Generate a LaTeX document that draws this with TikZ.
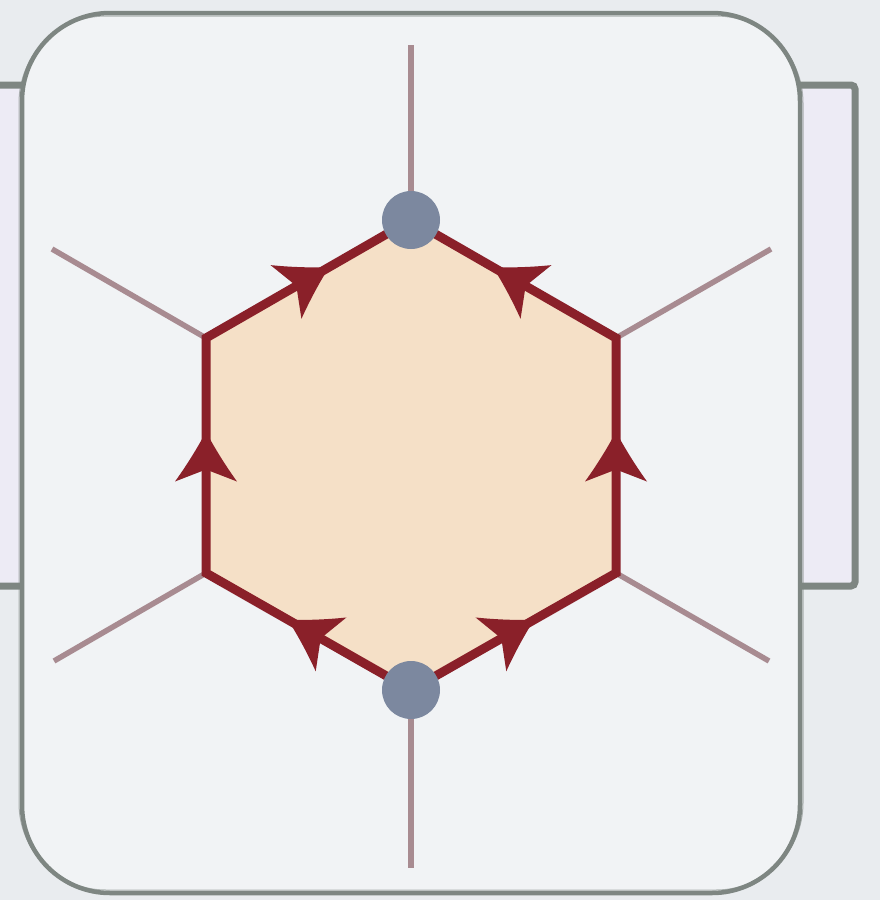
\documentclass[tikz,border=0pt]{standalone}
\usetikzlibrary{decorations.markings}
\definecolor{bgc}{HTML}{E9ECEF}
\definecolor{panel}{HTML}{F1F3F5}
\definecolor{lav}{HTML}{EDEBF5}
\definecolor{frame}{HTML}{7E8682}
\definecolor{spokec}{HTML}{A88B91}
\definecolor{edgec}{HTML}{8A2029}
\definecolor{hexc}{HTML}{F5E0C7}
\definecolor{dotc}{HTML}{7C889F}
\tikzset{
  spoke/.style={draw=spokec, line width=5.5pt},
  hexedge/.style={draw=edgec, line width=9pt, line join=miter},
  dotnode/.style={circle, fill=dotc, inner sep=0pt, minimum size=58pt},
  midarrow/.style={postaction=decorate, decoration={markings, mark=at position 0.5 with {
    \fill[edgec] (24pt,0pt) .. controls (12pt,6pt) and (-8pt,18pt) .. (-26pt,31pt)
      -- (-14pt,0pt) -- (-26pt,-31pt) .. controls (-8pt,-18pt) and (12pt,-6pt) .. (24pt,0pt) -- cycle;}}}
}
\begin{document}
\begin{tikzpicture}[x=1pt,y=-1pt]
\useasboundingbox (0,0) rectangle (880,900);
\fill[bgc] (0,0) rectangle (880,900);
% lavender card behind
\draw[draw=frame, fill=lav, line width=7pt, rounded corners=4pt] (-20,85) rectangle (855,586);
% main panel
\draw[draw=frame, fill=panel, line width=4.5pt, rounded corners=88pt] (22,13) rectangle (800,893);
\draw[draw=frame, line width=1pt, rounded corners=87pt, opacity=0.6] (19,16) rectangle (803,890);
% hexagon vertices
\coordinate (T) at (411,220);
\coordinate (UL) at (206,338);
\coordinate (LL) at (206,573);
\coordinate (B) at (411,690);
\coordinate (LR) at (616,573);
\coordinate (UR) at (616,338);
% spoke ends
\coordinate (sT) at (411,45);
\coordinate (sUL) at (52,249);
\coordinate (sLL) at (54,661);
\coordinate (sB) at (411,868);
\coordinate (sLR) at (769,661);
\coordinate (sUR) at (771,249);
\draw[spoke] (T) -- (sT);
\draw[spoke] (UL) -- (sUL);
\draw[spoke] (LL) -- (sLL);
\draw[spoke] (B) -- (sB);
\draw[spoke] (LR) -- (sLR);
\draw[spoke] (UR) -- (sUR);
% hexagon
\fill[hexc] (T) -- (UR) -- (LR) -- (B) -- (LL) -- (UL) -- cycle;
\draw[hexedge] (T) -- (UR) -- (LR) -- (B) -- (LL) -- (UL) -- cycle;
% arrows
\path[midarrow] (LL) -- (UL);
\path[midarrow] (UL) -- (T);
\path[midarrow] (UR) -- (T);
\path[midarrow] (LR) -- (UR);
\path[midarrow] (B) -- (LR);
\path[midarrow] (B) -- (LL);
% vertex dots
\node[dotnode] (nT) at (T) {};
\node[dotnode] (nB) at (B) {};
\end{tikzpicture}
\end{document}
